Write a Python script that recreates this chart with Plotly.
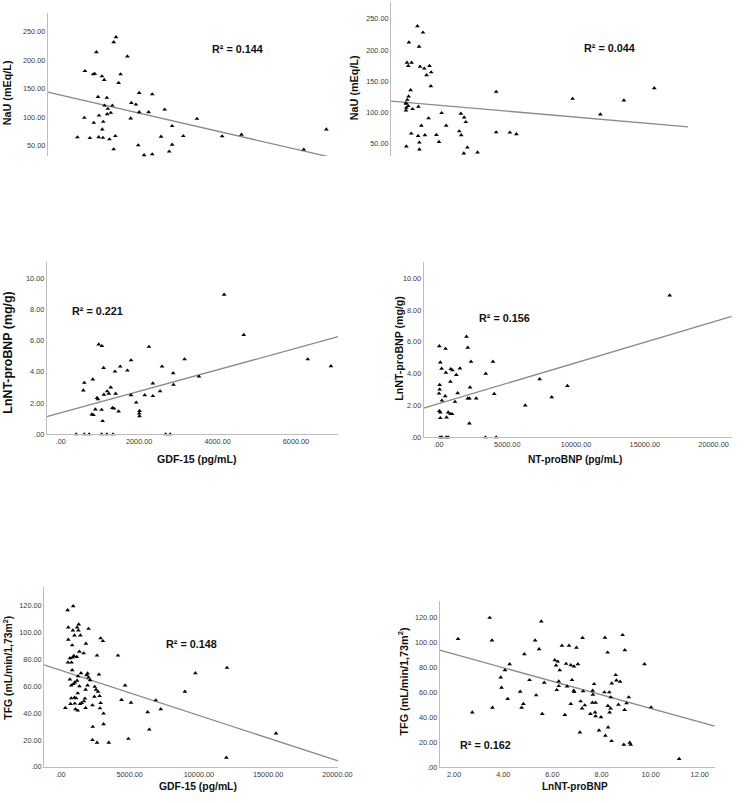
import plotly.graph_objects as go

W, H = 750, 803

# ---------------- DATA ----------------
# Panel A: GDF-15 (pg/mL) vs NaU (mEq/L)
a_x = [423, 619, 602, 747, 832, 874, 917, 849, 959, 985, 976, 1070, 1087, 1095, 1061, 1121, 1129,
       1189, 1197, 1214, 1291, 1333, 1257, 1367, 1427, 1410, 1367, 1495, 1546, 1724, 1810, 1827,
       1946, 2031, 2031, 2005, 2158, 2277, 2371, 2371, 2600, 2694, 2889, 2889, 2813, 3179, 3536,
       4191, 4693, 6316, 6903]
a_y = [64.8, 180.9, 99.0, 63.6, 175.1, 176.0, 214.0, 90.3, 135.6, 103.0, 65.0, 78.7, 64.0, 92.0,
       171.6, 165.2, 120.5, 134.0, 105.4, 114.7, 107.7, 120.5, 61.3, 231.4, 240.1, 67.1, 43.9,
       160.0, 175.1, 206.4, 97.9, 125.1, 122.2, 142.6, 108.9, 50.8, 33.4, 108.9, 140.2, 35.1,
       65.9, 113.5, 84.5, 52.0, 39.8, 67.1, 97.3, 66.5, 69.4, 43.3, 78.7]
a_fit = (138.3, -0.01544)  # intercept, slope
a_r2 = "R² = 0.144"

# Panel B: NT-proBNP (pg/mL) vs NaU (mEq/L)
b_x = [909, 1328, 268, 1031, 121, 466, 219, 1105, 1820, 1426, 1944, 1599, 1919, 392, 244, 146, 47,
       47, 219, 72, 47, 540, 983, 2732, 1746, 4186, 4433, 4556, 1205, 3077, 441, 959, 1476, 2338,
       4063, 4211, 6847, 7881, 8374, 1057, 2535, 72, 1057, 4678, 4407, 5442, 6847, 12611, 14705,
       16479, 18770]
b_y = [238.3, 228.1, 212.1, 205.2, 179.6, 179.6, 174.2, 173.2, 174.2, 170.0, 164.1, 159.3, 141.7,
       135.3, 125.1, 119.8, 114.5, 113.4, 109.7, 107.0, 102.7, 104.9, 108.6, 98.5, 89.9, 97.4, 91.5,
       84.0, 78.2, 78.2, 65.4, 61.6, 62.7, 63.2, 69.1, 62.7, 67.5, 67.0, 64.3, 51.0, 52.0, 44.6,
       39.8, 43.0, 33.4, 35.0, 132.6, 121.4, 96.3, 118.7, 138.5]
b_fit = (115.7, -0.00186)
b_r2 = "R² = 0.044"

# Panel C: GDF-15 (pg/mL) vs LnNT-proBNP (mg/g)
c_x = [4167, 4667, 967, 1050, 2250, 1792, 3158, 6300, 6892, 1092, 1517, 2583, 1383, 1700, 2867,
       3525, 817, 600, 2350, 2875, 1275, 575, 1183, 2533, 1225, 1400, 1100, 1792, 2142, 2350, 925,
       950, 1925, 1317, 1358, 883, 1042, 1475, 2008, 2000, 792, 833, 2008, 1067,
       392, 600, 725, 1042, 1175, 1333, 2675, 2792]
c_y = [8.94, 6.36, 5.75, 5.65, 5.60, 4.74, 4.80, 4.80, 4.36, 4.25, 4.34, 4.34, 4.02, 4.08, 3.91,
       3.70, 3.51, 3.30, 3.26, 3.17, 3.00, 2.81, 2.75, 2.75, 2.60, 2.60, 2.54, 2.50, 2.50, 2.45,
       2.33, 2.24, 2.03, 1.69, 1.65, 1.59, 1.57, 1.46, 1.50, 1.33, 1.27, 1.23, 1.16, 0.85,
       0, 0, 0, 0, 0, 0, 0, 0]
c_fit = (1.37, 0.000689)
c_r2 = "R² = 0.221"

# Panel D: NT-proBNP (pg/mL) vs LnNT-proBNP (mg/g)
d_x = [16809, 2031, 59, 511, 2126, 130, 2364, 3956, 226, 891, 1010, 1556, 535, 1295, 3433, 7354,
       867, 83, 83, 2293, 9373, 36, 1390, 4051, 487, 8232, 2126, 2245, 2744, 249, 1200, 6308, 59,
       130, 701, 867, 986, 130, 582, 2245,
       107, 249, 558, 701, 3409, 4193]
d_y = [8.92, 6.33, 5.73, 5.56, 5.63, 4.71, 4.75, 4.75, 4.31, 4.29, 4.21, 4.33, 4.06, 3.92, 4.00,
       3.65, 3.50, 3.29, 3.00, 3.13, 3.23, 2.75, 2.77, 2.73, 2.58, 2.52, 2.44, 2.44, 2.44, 2.31,
       2.23, 2.00, 1.65, 1.56, 1.56, 1.46, 1.46, 1.21, 1.25, 0.875,
       0, 0, 0, 0, 0, 0]
d_fit = (2.108, 0.0002575)
d_r2 = "R² = 0.156"

# Panel E: GDF-15 (pg/mL) vs TFG
e_x = [920, 519, 1321, 566, 1203, 2028, 896, 1297, 1014, 1439, 566, 2901, 3066, 1840, 849, 1368,
       1675, 967, 1179, 873, 2642, 4151, 684, 542, 802, 849, 1486, 1958, 1887, 1274, 2028, 2146,
       684, 1203, 2783, 1038, 943, 778, 1368, 1958, 2476, 2571, 4670, 1816, 2712, 1250, 2830,
       1014, 778, 1132, 1769, 2453, 1698, 4410, 5094, 6887, 2901, 731, 1038, 1415, 1533, 2311,
       354, 1816, 2854, 1085, 1250, 7241, 6297, 3113, 2335, 3113, 6415, 2311, 2642, 3491, 4906,
       8986, 9741, 12028, 15566, 11981]
e_y = [119.5, 116.5, 105.9, 103.7, 103.7, 102.7, 101.5, 101.5, 97.8, 97.8, 94.6, 95.6, 93.6, 91.6,
       90.4, 85.7, 84.5, 82.5, 81.8, 81.3, 82.8, 82.8, 80.8, 77.6, 77.6, 71.9, 69.7, 69.5, 68.2,
       67.5, 66.5, 64.5, 65.0, 64.1, 68.7, 62.8, 61.6, 60.6, 59.9, 60.6, 59.6, 57.4, 60.6, 57.4,
       55.9, 54.7, 52.7, 51.5, 51.0, 51.0, 50.8, 52.2, 48.8, 49.8, 47.8, 49.5, 47.5, 46.8, 47.1,
       46.8, 47.5, 45.8, 43.9, 43.9, 43.6, 42.9, 41.9, 42.9, 40.7, 39.7, 29.8, 31.8, 27.8, 20.0,
       18.0, 18.0, 20.9, 55.9, 69.7, 73.7, 24.9, 6.9]
e_fit = (71.93, -0.003367)
e_r2 = "R² = 0.148"

# Panel F: LnNT-proBNP vs TFG
f_x = [2.16, 2.74, 3.45, 3.54, 3.56, 3.90, 3.93, 4.07, 4.18, 4.26, 4.69, 4.75, 4.82, 4.86, 5.07,
       5.30, 5.34, 5.46, 5.55, 5.59, 5.67, 6.10, 6.15, 6.22, 6.18, 6.26, 6.30, 6.26, 6.39, 6.51,
       6.56, 6.60, 6.68, 6.75, 6.75, 6.80, 6.87, 6.88, 6.89, 6.98, 7.04, 7.12, 7.15, 7.23, 7.21,
       7.25, 7.32, 7.55, 7.64, 7.65, 7.63, 7.70, 7.74, 7.76, 7.76, 7.90, 7.98, 8.12, 8.16, 8.14,
       8.25, 8.26, 8.27, 8.32, 8.33, 8.37, 8.38, 8.41, 8.42, 8.58, 8.61, 8.69, 8.76, 8.86, 8.91,
       8.94, 8.95, 9.02, 9.11, 9.15, 9.19, 9.75, 10.02, 11.16]
f_y = [103.0, 44.1, 120.0, 101.9, 48.0, 72.2, 64.0, 78.0, 55.0, 82.8, 60.8, 48.0, 51.0, 90.8, 70.1,
       101.9, 57.9, 94.8, 117.1, 43.0, 68.0, 86.0, 81.8, 84.9, 62.1, 69.0, 78.0, 65.3, 97.7, 42.2,
       83.1, 65.0, 97.7, 82.0, 51.0, 70.1, 61.6, 81.0, 60.5, 96.1, 82.8, 28.1, 53.1, 103.8, 47.3,
       61.1, 49.9, 43.0, 61.6, 58.4, 52.0, 66.9, 44.1, 52.0, 41.1, 29.7, 40.3, 60.3, 25.5, 104.1,
       92.1, 49.4, 32.1, 60.3, 44.1, 47.3, 56.3, 21.2, 67.4, 74.1, 69.8, 50.4, 68.8, 106.2, 18.3,
       46.2, 94.0, 51.5, 56.3, 19.9, 18.3, 82.8, 48.3, 6.9]
f_fit = (101.7, -5.431)
f_r2 = "R² = 0.162"

# Tick labels
nau_ticks = [50, 100, 150, 200, 250]
nau_ticktext = ["50.00", "100.00", "150.00", "200.00", "250.00"]
ln_ticks = [0, 2, 4, 6, 8, 10]
ln_ticktext = [".00", "2.00", "4.00", "6.00", "8.00", "10.00"]
tfg_ticks = [0, 20, 40, 60, 80, 100, 120]
tfg_ticktext = [".00", "20.00", "40.00", "60.00", "80.00", "100.00", "120.00"]
gdf_small_ticks = [0, 2000, 4000, 6000]
gdf_small_ticktext = [".00", "2000.00", "4000.00", "6000.00"]
big_ticks = [0, 5000, 10000, 15000, 20000]
big_ticktext = [".00", "5000.00", "10000.00", "15000.00", "20000.00"]
lnx_ticks = [2, 4, 6, 8, 10, 12]
lnx_ticktext = ["2.00", "4.00", "6.00", "8.00", "10.00", "12.00"]

# --------------- LAYOUT ----------------
def fx(px):
    return px / W

def fy(py):
    return 1 - py / H

FAM = "Liberation Sans, Arial, sans-serif"
TICKFONT = dict(family=FAM, size=7.3, color="#3a3a3a")
R2FONT = dict(family=FAM, size=10.8, color="#111111")
AXCOL = "#bdbdbd"
LINECOL = "#8a8a8a"

panels = [
    dict(x=a_x, y=a_y, fit=a_fit, r2=a_r2, xd=(48.7, 345), yd=(13, 157), xr=(-350, 7209), yr=(32.0, 282.6),
         xt=None, yt=(nau_ticks, nau_ticktext), showx=False, r2pos=(242, 49.3)),
    dict(x=b_x, y=b_y, fit=b_fit, r2=b_r2, xd=(399, 702.3), yd=(2, 157), xr=(-1083, 21333), yr=(29.2, 277.2),
         xt=None, yt=(nau_ticks, nau_ticktext), showx=False, r2pos=(621.7, 48.3)),
    dict(x=c_x, y=c_y, fit=c_fit, r2=c_r2, xd=(47.7, 345), yd=(263.3, 437), xr=(-358, 7075), yr=(0, 11.05),
         xt=(gdf_small_ticks, gdf_small_ticktext), yt=(ln_ticks, ln_ticktext), showx=True, r2pos=(99, 313)),
    dict(x=d_x, y=d_y, fit=d_fit, r2=d_r2, xd=(432.3, 746.7), yd=(263.3, 440), xr=(-1081, 21324), yr=(0, 11.04),
         xt=(big_ticks, big_ticktext), yt=(ln_ticks, ln_ticktext), showx=True, r2pos=(514.7, 320)),
    dict(x=e_x, y=e_y, fit=e_fit, r2=e_r2, xd=(45, 345), yd=(591, 771.7), xr=(-1180, 20050), yr=(0, 133.5),
         xt=(big_ticks, big_ticktext), yt=(tfg_ticks, tfg_ticktext), showx=True, r2pos=(195, 647.7)),
    dict(x=f_x, y=f_y, fit=f_fit, r2=f_r2, xd=(448.7, 729.3), yd=(604.3, 772.3), xr=(1.415, 12.61), yr=(0, 133.8),
         xt=(lnx_ticks, lnx_ticktext), yt=(tfg_ticks, tfg_ticktext), showx=True, r2pos=(495.3, 750)),
]

fig = go.Figure()
layout = dict(width=W, height=H, margin=dict(l=0, r=0, t=0, b=0), paper_bgcolor="white",
              plot_bgcolor="white", showlegend=False)
annotations = []

for i, p in enumerate(panels, start=1):
    xa = "x" if i == 1 else f"x{i}"
    ya = "y" if i == 1 else f"y{i}"
    xkey = "xaxis" if i == 1 else f"xaxis{i}"
    ykey = "yaxis" if i == 1 else f"yaxis{i}"
    x0, x1 = p["xr"]
    b0, b1 = p["fit"]
    fig.add_trace(go.Scatter(x=[x0, x1], y=[b0 + b1 * x0, b0 + b1 * x1], mode="lines",
                             line=dict(color=LINECOL, width=1.3), xaxis=xa, yaxis=ya, hoverinfo="skip"))
    fig.add_trace(go.Scatter(x=p["x"], y=p["y"], mode="markers", cliponaxis=False,
                             marker=dict(symbol="triangle-up", size=4.2, color="black"),
                             xaxis=xa, yaxis=ya))
    xaxis = dict(domain=[fx(p["xd"][0]), fx(p["xd"][1])], range=list(p["xr"]), anchor=ya,
                 showgrid=False, zeroline=False, fixedrange=True)
    if p["showx"]:
        xaxis.update(showline=True, linecolor=AXCOL, linewidth=1, ticks="",
                     tickvals=p["xt"][0], ticktext=p["xt"][1], tickfont=TICKFONT)
    else:
        xaxis.update(showline=False, showticklabels=False, ticks="")
    yaxis = dict(domain=[fy(p["yd"][1]), fy(p["yd"][0])], range=list(p["yr"]), anchor=xa,
                 showgrid=False, zeroline=False, showline=True, linecolor=AXCOL, linewidth=1,
                 ticks="", tickvals=p["yt"][0], ticktext=p["yt"][1], tickfont=TICKFONT, fixedrange=True)
    layout[xkey] = xaxis
    layout[ykey] = yaxis
    annotations.append(dict(x=fx(p["r2pos"][0]), y=fy(p["r2pos"][1]), xref="paper", yref="paper",
                            text=f"<b>{p['r2']}</b>", showarrow=False, font=R2FONT,
                            xanchor="center", yanchor="middle"))

# axis titles (text, x px, y px, angle, font size)
titles = [
    ("NaU (mEq/L)", 8, 93, -90, 10.8),
    ("NaU (mEq/L)", 362, 88, -90, 10.8),
    ("LnNT-proBNP (mg/g)", 8, 355, -90, 12.4),
    ("GDF-15 (pg/mL)", 200, 462, 0, 10.6),
    ("LnNT-proBNP (mg/g)", 407, 350, -90, 10.6),
    ("NT-proBNP (pg/mL)", 587, 462, 0, 10.2),
    ("TFG (mL/min/1,73m<sup>2</sup>)", 8, 672, -90, 10.4),
    ("GDF-15 (pg/mL)", 202, 791, 0, 10.4),
    ("TFG (mL/min/1,73m<sup>2</sup>)", 411, 686, -90, 10.8),
    ("LnNT-proBNP", 587, 791, 0, 10.0),
]
for t, x, y, ang, sz in titles:
    annotations.append(dict(x=fx(x), y=fy(y), xref="paper", yref="paper", text=f"<b>{t}</b>",
                            showarrow=False, font=dict(family=FAM, size=sz, color="#111111"),
                            textangle=ang, xanchor="center", yanchor="middle"))

layout["annotations"] = annotations
fig.update_layout(**layout)
fig.write_html("out.html")
